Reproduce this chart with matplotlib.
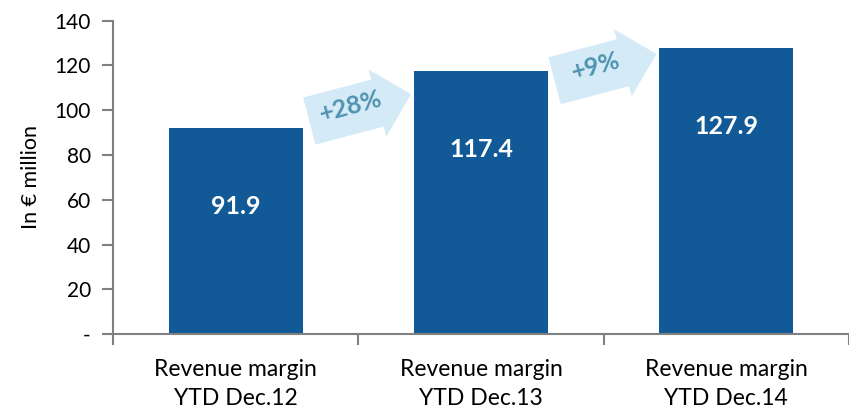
import matplotlib.pyplot as plt

# chart data
categories = ["Revenue margin\nYTD Dec.12", "Revenue margin\nYTD Dec.13", "Revenue margin\nYTD Dec.14"]
values = [91.9, 117.4, 127.9]
growth_labels = ["+28%", "+9%"]
y_ticks = [0, 20, 40, 60, 80, 100, 120, 140]
y_tick_labels = ["-", "20", "40", "60", "80", "100", "120", "140"]

plt.rcParams['font.family'] = ['Lato', 'DejaVu Sans']

bar_color = '#115A97'
arrow_color = '#D5EAF7'
growth_color = '#4E93B0'
axis_color = '#808080'

fig = plt.figure(figsize=(8.49, 4.13), dpi=100)
ax = fig.add_axes([113 / 849, 0.191, 736 / 849, 0.759])

x = list(range(len(categories)))
ax.bar(x, values, width=0.545, color=bar_color, zorder=2)

# value labels inside the bars
for xi, v in zip(x, values):
    ax.text(xi, v - 35, f"{v:.1f}", ha='center', va='center', color='white',
            fontsize=18, fontweight='bold', zorder=3)

# growth arrows between bars
for i, label in enumerate(growth_labels):
    mid = (values[i] + values[i + 1]) / 2 - 3.5
    ax.annotate('', xy=(i + 0.715, mid + 6), xytext=(i + 0.30, mid - 6),
                arrowprops=dict(arrowstyle='simple,head_length=25,head_width=50,tail_width=35',
                                mutation_scale=1, color=arrow_color, lw=0,
                                shrinkA=0, shrinkB=0), zorder=1)
    ax.text(i + 0.47, mid + 0.5, label, ha='center', va='center', rotation=15,
            color=growth_color, fontsize=18, fontweight='bold', zorder=3)

ax.set_xlim(-0.5, -0.5 + 736 / 249)
ax.set_ylim(0, 140)
ax.set_yticks(y_ticks)
ax.set_yticklabels(y_tick_labels, fontsize=15)
ax.set_xticks(x)
ax.set_xticklabels(categories, fontsize=16.5, linespacing=1.45)
ax.tick_params(axis='x', length=0, pad=18)
ax.set_xticks([-0.5, 0.5, 1.5, 2.5], minor=True)
ax.tick_params(axis='x', which='minor', length=8, width=1.5, color=axis_color, direction='out')
ax.tick_params(axis='y', length=8, width=1.5, color=axis_color, pad=8)
ax.set_ylabel("In € million", fontsize=15.5, labelpad=10)

for side in ['top', 'right']:
    ax.spines[side].set_visible(False)
for side in ['left', 'bottom']:
    ax.spines[side].set_color(axis_color)
    ax.spines[side].set_linewidth(1.5)

fig.savefig('out.png', dpi=100)
